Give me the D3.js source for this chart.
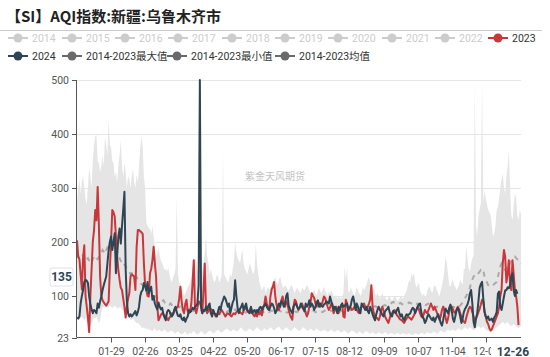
<!DOCTYPE html>
<html><head><meta charset="utf-8">
<script src="https://cdn.jsdelivr.net/npm/d3@7"></script>
<style>body{margin:0;background:#fff;}svg{display:block;font-family:Roboto,"Noto Sans CJK SC",sans-serif;}</style>
</head><body><svg id="c" width="550" height="357"></svg>
<script>
// ---- DATA ----
const title = "【SI】AQI指数:新疆:乌鲁木齐市";
const legendRow1 = ["2014","2015","2016","2017","2018","2019","2020","2021","2022","2023"];
const legendRow2 = ["2024","2014-2023最大值","2014-2023最小值","2014-2023均值"];
const yTicks = [23,100,200,300,400,500];
const xTickLabels = ["01-29","02-26","03-25","04-22","05-20","06-17","07-15","08-12","09-09","10-07","11-04","12-02"];
const xTickIndex = [28,56,84,112,140,168,196,224,252,280,308,336];
const pointerX = {index:360,label:"12-26"};
const pointerY = 135;
const watermark = "紫金天风期货";

const s2023 = [
203,172,168,140,112,170,194,100,80,60,
33,100,150,200,222,259,240,302,230,135,
100,92,88,85,82,86,90,150,200,259,
255,247,210,173,148,130,115,111,95,80,
60,80,95,105,136,140,138,136,111,190,
222,222,220,218,215,160,120,111,100,99,
142,150,166,191,160,136,80,55,60,65,
68,66,64,62,58,55,60,62,68,66,
72,74,78,80,95,117,90,74,68,85,
93,72,68,72,86,124,166,80,68,78,
90,88,80,68,111,160,80,68,72,78,
76,74,70,66,62,64,68,66,72,74,
70,66,62,66,68,66,64,62,66,68,
66,70,72,74,70,68,66,74,80,76,
72,70,74,78,70,65,62,68,62,70,
66,72,64,76,85,99,86,78,74,99,
112,117,126,99,84,76,74,82,92,99,
86,80,90,86,74,66,60,56,80,93,
90,80,74,78,82,86,80,74,68,62,
68,80,88,105,100,96,86,80,90,86,
80,84,90,99,96,88,80,74,78,86,
80,68,74,80,74,68,76,82,86,62,
60,93,86,72,80,78,74,76,80,78,
74,70,68,76,80,84,86,80,74,80,
86,93,120,80,68,62,60,58,55,62,
74,80,72,64,58,54,50,58,66,68,
72,74,70,64,62,58,56,55,52,50,
55,58,62,60,58,56,60,64,70,74,
80,76,68,62,60,66,74,70,68,74,
80,86,80,74,80,74,68,62,56,62,
74,80,72,60,50,58,70,78,80,76,
70,68,74,80,76,68,62,55,52,50,
60,68,76,80,78,70,62,55,58,64,
70,76,84,93,90,72,62,52,48,40,
36,38,44,50,56,62,68,80,100,111,
160,185,173,125,140,166,125,111,166,140,
111,99,80,46,null,null];

const s2024 = [
60,58,62,86,100,111,126,130,128,124,
99,85,75,68,74,72,68,86,78,90,
99,111,120,128,136,160,185,200,210,185,
200,216,142,175,210,225,197,230,260,293,
150,90,68,62,66,62,65,68,72,64,
70,80,100,108,111,124,118,110,126,105,
112,117,93,100,86,80,75,88,80,75,
78,66,60,55,70,74,72,65,62,66,
75,80,70,63,62,66,58,55,60,52,
58,62,74,70,72,78,75,80,82,86,
120,500,80,68,74,72,80,74,82,86,
68,62,74,68,66,62,72,80,74,86,
92,99,95,88,80,86,68,78,88,93,
129,100,78,68,76,80,86,74,80,86,
74,70,68,80,68,72,74,68,74,70,
78,80,74,80,82,86,80,76,74,80,
86,84,78,68,72,80,86,80,90,88,
80,86,100,105,82,76,72,68,80,84,
86,80,76,78,86,80,76,72,86,80,
84,92,80,86,82,74,80,88,92,80,
86,82,80,84,86,90,88,86,99,90,
84,74,80,76,68,80,74,82,86,80,
82,84,86,74,78,82,93,99,88,74,
86,80,72,68,86,82,78,74,80,72,
68,80,74,66,60,55,66,74,80,74,
70,65,62,70,74,76,80,70,64,62,
72,70,68,74,78,68,62,66,58,55,
62,66,64,66,68,74,78,76,68,74,
80,84,86,70,62,58,50,54,62,66,
62,58,55,60,52,58,62,66,58,50,
45,55,68,76,72,68,78,84,74,58,
52,62,74,78,72,62,50,58,70,76,
80,84,92,105,111,86,52,42,58,68,
90,115,122,126,95,70,62,58,62,55,
56,58,52,60,64,70,104,108,80,74,
86,99,110,111,116,114,120,136,142,110,
100,111,104,null,null,null];

const sMax = [
272,300,315,290,310,322,300,280,270,300,
339,320,300,350,380,395,398,350,346,330,
340,360,340,395,380,360,426,380,375,350,
346,320,330,310,340,360,388,340,320,346,
330,300,322,315,300,320,335,310,300,325,
310,340,376,395,376,320,300,235,230,225,
225,215,230,210,190,173,180,190,175,165,
160,155,148,150,145,152,140,130,125,135,
140,150,284,140,125,120,115,110,100,105,
110,115,120,125,135,150,160,173,165,150,
140,135,150,145,160,180,210,175,160,140,
150,140,130,125,130,140,135,125,130,140,
370,140,135,130,125,130,140,135,150,165,
200,180,170,165,160,175,185,160,150,145,
140,150,160,155,145,140,150,197,160,140,
125,117,110,115,120,105,112,117,110,115,
120,125,130,135,125,120,130,136,125,117,
115,120,117,112,110,115,120,117,110,105,
112,115,110,108,105,117,112,110,115,120,
117,110,105,100,108,112,105,100,110,115,
108,105,110,117,110,105,100,108,105,110,
105,100,98,102,95,100,98,95,100,105,
154,130,153,110,105,117,110,105,100,108,
117,110,105,100,105,117,110,115,120,130,
135,125,117,110,115,105,100,105,100,95,
100,105,98,100,95,92,98,100,95,90,
95,100,98,92,90,95,100,98,95,100,
105,110,120,130,125,142,135,143,125,115,
120,125,110,105,100,105,98,100,110,115,
117,110,105,115,120,117,110,105,99,110,
120,130,150,173,160,140,120,117,125,130,
120,117,110,115,120,130,125,120,150,150,
194,170,150,145,160,170,175,494,230,210,
247,260,272,500,272,296,280,270,259,255,
250,230,210,215,230,259,265,280,300,315,
327,300,290,320,340,370,300,250,240,270,
290,280,250,240,260,250];

const sMin = [
60,58,55,60,62,58,55,60,52,48,
33,45,50,55,60,58,62,55,50,55,
70,78,80,82,80,78,80,82,80,78,
80,82,80,78,76,80,78,75,72,70,
60,62,60,58,55,56,58,55,52,50,
50,48,45,42,40,42,40,38,40,36,
38,36,35,38,40,36,34,38,36,35,
34,36,38,35,33,32,35,34,36,33,
32,30,33,35,32,30,28,30,32,34,
30,28,30,32,30,33,35,32,30,28,
30,32,35,33,30,28,30,32,34,36,
35,33,30,32,34,36,38,35,33,32,
34,36,38,40,38,36,34,35,37,38,
36,34,35,37,40,42,38,36,35,34,
36,38,40,38,36,35,37,40,42,40,
38,36,35,37,40,38,36,38,40,42,
40,38,36,38,40,42,44,40,38,36,
38,40,42,40,38,36,35,37,40,42,
40,38,36,35,37,40,42,40,38,36,
35,37,40,38,36,35,37,40,38,36,
35,34,36,38,36,35,33,34,36,38,
36,34,33,35,37,36,34,32,33,35,
36,34,32,30,32,34,36,35,33,32,
30,32,34,33,31,30,32,34,35,33,
31,30,32,33,31,30,29,31,33,32,
30,29,31,33,32,30,28,30,32,31,
30,28,30,32,31,29,28,30,31,30,
29,28,30,31,29,28,27,29,31,30,
29,28,30,32,31,30,29,31,33,32,
31,30,32,34,33,31,30,32,34,36,
35,33,32,34,36,38,36,35,37,38,
36,35,37,39,40,38,36,38,40,42,
40,38,40,42,40,38,36,38,40,42,
44,42,40,42,44,40,38,36,35,34,
33,34,36,38,40,42,44,46,48,50,
52,50,48,50,52,48,46,44,46,48,
46,44,42,40,42,44];

const sMean = [
172,175,170,168,172,176,170,165,168,170,
165,160,162,168,172,175,170,168,172,178,
180,185,182,178,185,190,188,185,192,195,
190,185,180,182,175,170,165,160,162,158,
155,150,148,145,140,142,138,135,132,135,
130,128,125,122,120,118,115,112,110,108,
110,106,104,102,100,98,96,95,93,92,
90,92,88,86,88,85,84,86,83,82,
84,82,80,81,79,80,78,77,78,76,
75,76,74,75,73,74,72,73,74,72,
75,73,72,74,73,71,72,70,71,72,
70,71,69,70,72,71,70,69,70,72,
74,72,71,70,72,73,71,70,72,74,
75,73,72,71,70,72,73,71,70,69,
70,72,71,70,69,70,71,72,70,69,
68,70,71,70,69,68,70,71,70,72,
73,72,71,70,72,74,73,72,71,70,
71,72,70,69,70,71,70,69,68,70,
71,70,72,71,70,69,70,72,71,70,
69,70,71,72,73,72,70,71,72,73,
72,71,70,72,73,74,72,71,72,73,
72,71,70,72,73,72,71,72,74,75,
76,75,74,76,75,74,76,77,76,75,
76,77,78,76,75,77,78,79,78,77,
78,80,79,78,80,81,80,79,81,82,
81,80,82,83,82,81,83,84,85,88,
89,87,86,85,84,86,87,85,84,83,
84,85,86,88,87,86,85,86,87,85,
86,85,84,86,87,85,84,83,85,86,
85,84,83,82,80,79,80,78,77,78,
79,80,78,77,76,78,80,79,78,80,
79,80,82,81,80,82,85,88,92,96,
100,105,110,115,125,130,136,138,142,140,
142,145,148,146,148,136,130,125,120,118,
117,118,120,122,124,126,135,145,155,160,
155,150,148,152,150,155,160,165,170,172,
173,170,168,166,165,160];

// ---- CHART ----
const svg = d3.select("#c");
const L = 77, R = 521, T = 80, B = 337.5;
const n = s2024.length;
const x = d3.scaleLinear().domain([0, n - 1]).range([L, R]);
const y = d3.scaleLinear().domain([23, 500]).range([B, T]);
const FS = 10.5;

// title
svg.append("text").attr("x", 6).attr("y", 22).attr("font-size", 15).attr("font-weight", "bold")
  .attr("font-family", "'Noto Sans CJK SC',sans-serif")
  .attr("fill", "#222").text(title);
svg.append("line").attr("x1", 0).attr("x2", 542).attr("y1", 30.5).attr("y2", 30.5)
  .attr("stroke", "#ccc").attr("stroke-width", 1);

// legend
function legendItem(cx, cy, label, color, textColor) {
  const g = svg.append("g");
  g.append("line").attr("x1", cx - 10).attr("x2", cx + 10).attr("y1", cy).attr("y2", cy)
    .attr("stroke", color).attr("stroke-width", 2);
  g.append("circle").attr("cx", cx).attr("cy", cy).attr("r", 4.5).attr("fill", color);
  g.append("text").attr("x", cx + 14).attr("y", cy).attr("dy", "0.36em").attr("font-size", FS)
    .attr("fill", textColor).text(label);
}
const row1X = [18,72,125,178,232,285,338,392,445,498];
legendRow1.forEach((t, i) => {
  const active = t === "2023";
  legendItem(row1X[i], 38, t, active ? "#c9373a" : "#cccccc", active ? "#333" : "#cccccc");
});
const row2X = [18,72,177,285];
const row2Col = ["#2f4554","#6a6a6a","#6a6a6a","#6a6a6a"];
legendRow2.forEach((t, i) => legendItem(row2X[i], 56, t, row2Col[i], "#333"));

// grid
svg.append("g").selectAll("line").data(yTicks.filter(d => d !== 23)).join("line")
  .attr("x1", L).attr("x2", R).attr("y1", d => Math.round(y(d)) + 0.5).attr("y2", d => Math.round(y(d)) + 0.5)
  .attr("stroke", "#e6e6e6");

// watermark
svg.append("text").attr("x", 275).attr("y", 176).attr("text-anchor", "middle").attr("dy", "0.35em")
  .attr("font-size", 10).attr("fill", "#c4c4c4").text(watermark);

// band
const idx = d3.range(n);
svg.append("path").datum(idx)
  .attr("d", d3.area().x(i => x(i)).y0(i => y(sMin[i])).y1(i => y(sMax[i])))
  .attr("fill", "#e5e5e5");

// mean dashed
svg.append("path").datum(idx)
  .attr("d", d3.line().x(i => x(i)).y(i => y(sMean[i])))
  .attr("fill", "none").attr("stroke", "#aaaaaa").attr("stroke-width", 2).attr("stroke-dasharray", "5,5");

// 2023
const lineGen = arr => d3.line().defined(i => arr[i] != null).x(i => x(i)).y(i => y(arr[i]));
svg.append("path").datum(idx).attr("d", lineGen(s2023))
  .attr("fill", "none").attr("stroke", "#c9373a").attr("stroke-width", 2).attr("stroke-linejoin", "round");
// 2024
svg.append("path").datum(idx).attr("d", lineGen(s2024))
  .attr("fill", "none").attr("stroke", "#2f4554").attr("stroke-width", 2).attr("stroke-linejoin", "round");

// y axis
const ya = svg.append("g");
ya.append("line").attr("x1", L - 0.5).attr("x2", L - 0.5).attr("y1", T).attr("y2", B).attr("stroke", "#555");
yTicks.forEach(v => {
  const yy = Math.round(y(v)) + 0.5;
  ya.append("line").attr("x1", L - 5).attr("x2", L).attr("y1", yy).attr("y2", yy).attr("stroke", "#555");
  ya.append("text").attr("x", L - 8).attr("y", yy).attr("dy", "0.35em").attr("text-anchor", "end")
    .attr("font-size", FS).attr("fill", "#555").text(v);
});
// x axis (last regular label partly hidden behind the pointer label, as in the reference)
const px = x(pointerX.index);
svg.append("defs").append("clipPath").attr("id", "lblclip").append("rect")
  .attr("x", 0).attr("y", 0).attr("width", px - 24).attr("height", 357);
const xa = svg.append("g");
xa.append("line").attr("x1", L).attr("x2", R).attr("y1", B).attr("y2", B).attr("stroke", "#555");
xTickIndex.forEach((ti, k) => {
  const xx = Math.round(x(ti)) + 0.5;
  xa.append("line").attr("x1", xx).attr("x2", xx).attr("y1", B).attr("y2", B + 5).attr("stroke", "#555");
  xa.append("text").attr("x", xx).attr("y", B + 14).attr("text-anchor", "middle").attr("dy", "0.35em")
    .attr("font-size", FS).attr("fill", "#555").attr("clip-path", "url(#lblclip)").text(xTickLabels[k]);
});

// axis pointer labels
svg.append("text").attr("x", px - 2).attr("y", B + 14).attr("dy", "0.36em").attr("text-anchor", "middle")
  .attr("font-size", 12).attr("font-weight", "bold").attr("fill", "#2f4554").text(pointerX.label);
const py = y(pointerY);
svg.append("rect").attr("x", 50).attr("y", py - 9).attr("width", 23).attr("height", 18)
  .attr("fill", "#fff").attr("stroke", "#dde3ea").attr("rx", 2);
svg.append("text").attr("x", 61.5).attr("y", py).attr("dy", "0.36em").attr("text-anchor", "middle")
  .attr("font-size", 12).attr("font-weight", "bold").attr("fill", "#2f4554").text(pointerY);
</script></body></html>
